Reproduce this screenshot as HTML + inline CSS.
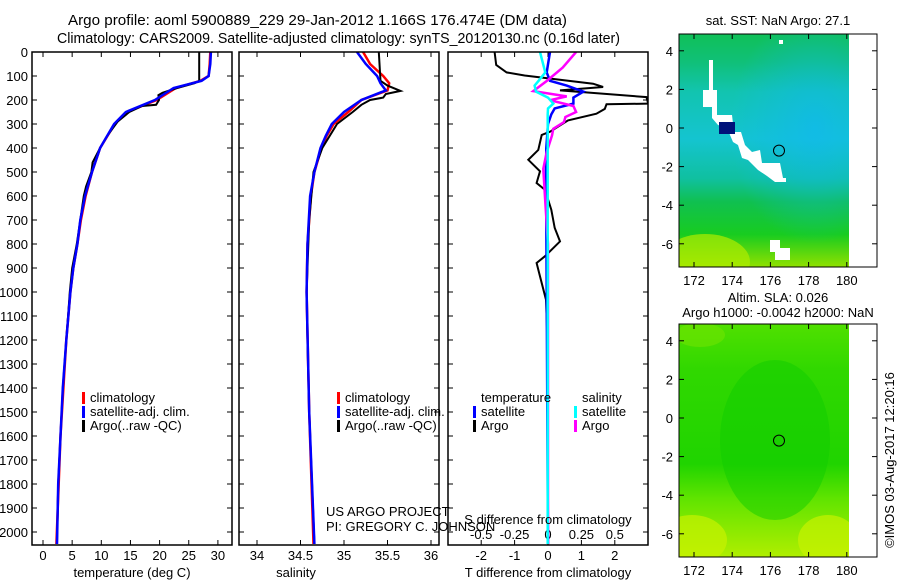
<!DOCTYPE html>
<html><head><meta charset="utf-8"><style>
html,body{margin:0;padding:0;background:#fff;}
svg{display:block;font-family:"Liberation Sans",sans-serif;}
text{fill:#000;}
</style></head><body>
<svg id="root" width="900" height="580" viewBox="0 0 900 580" xmlns="http://www.w3.org/2000/svg">
<defs>
<linearGradient id="sstGrad" x1="0" y1="0" x2="0" y2="1">
<stop offset="0" stop-color="#10c058"/><stop offset="0.12" stop-color="#10c078"/>
<stop offset="0.25" stop-color="#12c4b0"/><stop offset="0.45" stop-color="#14c4d0"/>
<stop offset="0.62" stop-color="#10c0a0"/><stop offset="0.72" stop-color="#10c050"/>
<stop offset="0.86" stop-color="#18cc20"/><stop offset="1" stop-color="#90e000"/>
</linearGradient>
<radialGradient id="sstBlue" cx="0.8" cy="0.4" r="0.5"><stop offset="0" stop-color="#10b8f0" stop-opacity="0.7"/><stop offset="1" stop-color="#10b8f0" stop-opacity="0"/></radialGradient>
<linearGradient id="slaGrad" x1="0" y1="0" x2="0" y2="1">
<stop offset="0" stop-color="#50e000"/><stop offset="0.2" stop-color="#30d800"/>
<stop offset="0.6" stop-color="#20d400"/><stop offset="0.75" stop-color="#60e400"/>
<stop offset="1" stop-color="#b0ee00"/>
</linearGradient>
<clipPath id="clip1"><rect x="679" y="34" width="170" height="233"/></clipPath>
<clipPath id="clip2"><rect x="679" y="324" width="170" height="233"/></clipPath>
</defs>

<g font-size="15">
<text x="68" y="25" textLength="499" lengthAdjust="spacingAndGlyphs">Argo profile: aoml 5900889_229 29-Jan-2012 1.166S 176.474E (DM data)</text>
<text x="57" y="43" textLength="563" lengthAdjust="spacingAndGlyphs">Climatology: CARS2009. Satellite-adjusted climatology: synTS_20120130.nc (0.16d later)</text>
</g>

<g id="panels"></g>

<g>
<g clip-path="url(#clip1)">
<rect x="679" y="34" width="170" height="233" fill="url(#sstGrad)"/>
<rect x="679" y="34" width="170" height="233" fill="url(#sstBlue)"/>
<ellipse cx="705" cy="262" rx="45" ry="28" fill="#b0ec00" opacity="0.7"/>
<polygon points="709,60 713,60 713,90 717,90 717,115 732,115 734,132 741,132 745,145 752,152 760,150 762,163 780,163 783,178 786,178 786,182 775,182 767,176 758,170 748,160 742,158 738,145 733,142 727,128 718,125 712,118 712,107 703,107 703,90 709,90" fill="#fff"/>
<rect x="719" y="122" width="16" height="12" fill="#00127a"/>
<rect x="779" y="40" width="4" height="4" fill="#fff"/>
<polygon points="770,240 780,240 780,248 790,248 790,260 775,260 775,252 770,252" fill="#fff"/>
</g>
<rect x="849" y="34" width="28" height="233" fill="#fff"/>
<circle cx="779" cy="150.6" r="5.5" fill="none" stroke="#000" stroke-width="1"/>
<rect x="679" y="34" width="198" height="233" fill="none" stroke="#000" stroke-width="1"/>
<text x="778" y="25" text-anchor="middle" font-size="13">sat. SST: NaN Argo: 27.1</text>
</g>

<g>
<g clip-path="url(#clip2)">
<rect x="679" y="324" width="170" height="233" fill="url(#slaGrad)"/>
<ellipse cx="775" cy="440" rx="55" ry="80" fill="#10cc00" opacity="0.5"/>
<ellipse cx="692" cy="540" rx="35" ry="25" fill="#c8f200" opacity="0.7"/>
<ellipse cx="828" cy="540" rx="30" ry="25" fill="#c8f200" opacity="0.7"/>
<ellipse cx="700" cy="335" rx="25" ry="12" fill="#70e400" opacity="0.6"/>
</g>
<rect x="849" y="324" width="28" height="233" fill="#fff"/>
<circle cx="779" cy="440.6" r="5.5" fill="none" stroke="#000" stroke-width="1"/>
<rect x="679" y="324" width="198" height="233" fill="none" stroke="#000" stroke-width="1"/>
<text x="778" y="302" text-anchor="middle" font-size="13">Altim. SLA: 0.026</text>
<text x="778" y="317" text-anchor="middle" font-size="13">Argo h1000: -0.0042 h2000: NaN</text>
</g>
<text transform="translate(894,460) rotate(-90)" text-anchor="middle" font-size="13">©IMOS 03-Aug-2017 12:20:16</text>

<script>
const depthTicks = [0,100,200,300,400,500,600,700,800,900,1000,1100,1200,1300,1400,1500,1600,1700,1800,1900,2000];
const tempTicks = [0,5,10,15,20,25,30];
const salTicks = [34,34.5,35,35.5,36];
const salTickLabels = ["34","34.5","35","35.5","36"];
const tdiffTicks = [-2,-1,0,1,2];
const sdiffTicks = [-0.5,-0.25,0,0.25,0.5];
const sdiffTickLabels = ["-0.5","-0.25","0","0.25","0.5"];

const tClimDepth = [0,50,100,120,150,200,250,300,400,500,600,700,800,900,1000,1200,1400,1600,1800,2050];
const tClim      = [28.7,28.6,28.4,27,22.8,19.5,14.4,12.3,9.8,8.4,7.3,6.5,5.9,5.2,4.7,4.0,3.5,3.0,2.7,2.3];
const tSat       = [28.8,28.7,28.4,27.2,22.4,19.2,14.2,12.2,9.8,8.4,7.2,6.4,5.9,5.2,4.7,4.0,3.4,3.0,2.6,2.4];
const tArgoDepth = [0,120,130,150,170,180,200,220,225,250,290,350,400,460,500,560,600,700,800,900,1000,1100,1200,1400,1600,1800,2050];
const tArgo      = [26.8,26.8,26,23,20.5,19.8,19.9,19.4,17,14.8,12.8,11,9.8,8.5,8.3,7.4,7.0,6.4,5.8,5.0,4.6,4.3,4.0,3.4,3.0,2.6,2.4];

const sClimDepth = [0,50,100,130,160,200,250,300,350,400,500,600,800,1000,1500,2050];
const sClim      = [35.22,35.3,35.45,35.52,35.5,35.2,35.05,34.88,34.8,34.74,34.66,34.62,34.58,34.57,34.6,34.65];
const sSat       = [35.15,35.25,35.38,35.42,35.48,35.2,35.0,34.86,34.79,34.73,34.66,34.61,34.58,34.57,34.6,34.66];
const sArgoDepth = [0,120,140,162,175,190,200,220,250,300,400,500,700,1000,1200,1500,2050];
const sArgo      = [35.40,35.42,35.50,35.65,35.48,35.45,35.3,35.2,35.1,34.92,34.75,34.65,34.6,34.57,34.58,34.6,34.66];

const dDepth1 = [0,54,85,98,132,146,160,188,215,218,237,257,285,332,346,408,449,497,546,574,657,733,789,851,879,935,1032,1185,1500,2050];
const dTArgo  = [-1.6,-1.55,-1.24,-0.7,1.35,1.65,0.36,2.95,3.0,1.75,1.7,1.45,0.6,0.06,-0.19,-0.29,-0.59,-0.24,-0.34,-0.09,0.1,0.2,0.36,-0.09,-0.34,-0.24,-0.06,-0.02,0,0];
const dDepth2 = [0,85,120,140,165,190,215,235,260,300,400,500,700,1000,1500,2050];
const dTSat   = [0.06,-0.04,0.06,0.56,1.06,0.76,0.76,0.2,0.1,0.0,-0.05,-0.06,-0.05,-0.04,-0.02,0];
const dSSat   = [-0.06,-0.02,-0.07,-0.1,-0.09,0.0,0.04,0.0,-0.002,-0.002,-0.002,-0.002,-0.002,-0.002,-0.002,-0.002];
const dDepth3 = [0,65,121,163,185,201,225,250,271,292,320,348,417,487,626,800,1200,2050];
const dSArgo  = [0.21,0.11,-0.01,-0.11,0.14,0.015,0.19,0.21,0.13,0.12,0.04,0.03,-0.01,-0.035,-0.02,0.0,0.0,0.0];

const TOP=52, BOT=545, PXD=24/100;
const yD = d => TOP + d*PXD;
const xT = t => 43 + t*5.83;
const xS = s => 257 + (s-34)*87;
const xTD = v => 548 + v*33.4;
const xSD = v => 548 + v*133.6;
const panels=[{l:32,r:232,name:'temperature-panel'},{l:239,r:439,name:'salinity-panel'},{l:448,r:648,name:'difference-panel'}];
const NS='http://www.w3.org/2000/svg';
const G=document.getElementById('panels');
function mk(tag,attrs,parent){const e=document.createElementNS(NS,tag);for(const k in attrs)e.setAttribute(k,attrs[k]);(parent||G).appendChild(e);return e;}
function txt(x,y,s,anchor,size,parent){const e=mk('text',{x:x,y:y,'text-anchor':anchor||'start','font-size':size||13},parent);e.textContent=s;return e;}

panels.forEach(p=>{
  const g=mk('g',{});
  
  
  p.g=g;
  const c=mk('clipPath',{id:'pc'+p.l},g);
  mk('rect',{x:p.l,y:TOP,width:p.r-p.l,height:BOT-TOP},c);
});

depthTicks.forEach(d=>{
  const t=txt(28,yD(d)+5,String(d),'end',13,panels[0].g);
  
  
  panels.forEach(p=>{
    mk('line',{x1:p.l,x2:p.l+5,y1:yD(d),y2:yD(d),stroke:'#000'},p.g);
    mk('line',{x1:p.r-5,x2:p.r,y1:yD(d),y2:yD(d),stroke:'#000'},p.g);
  });
});

function xticks(p,vals,labels,fx,ly){
  vals.forEach((v,i)=>{
    const x=fx(v);
    mk('line',{x1:x,x2:x,y1:BOT,y2:BOT-5,stroke:'#000'},p.g);
    mk('line',{x1:x,x2:x,y1:TOP,y2:TOP+5,stroke:'#000'},p.g);
    const t=txt(x,ly,labels[i],'middle',13,p.g);
    
    
  });
}
xticks(panels[0],tempTicks,tempTicks.map(String),xT,560);
xticks(panels[1],salTicks,salTickLabels,xS,560);
xticks(panels[2],tdiffTicks,tdiffTicks.map(String),xTD,560);
sdiffTicks.forEach((v,i)=>{
  const t=txt(xSD(v),539,sdiffTickLabels[i],'middle',13,panels[2].g);
  
  
});

function line(p,xs,ds,fx,color,w,name){
  const pts=xs.map((v,i)=>fx(v).toFixed(1)+','+yD(ds[i]).toFixed(1)).join(' ');
  const e=mk('polyline',{points:pts,fill:'none',stroke:color,'stroke-width':w,'clip-path':'url(#pc'+p.l+')'},p.g);
  
  
}
line(panels[0],tClim,tClimDepth,xT,'#f00',2.5,'temp-climatology-line');
line(panels[0],tArgo,tArgoDepth,xT,'#000',2,'temp-argo-line');
line(panels[0],tSat,tClimDepth,xT,'#00f',2.5,'temp-satellite-line');
line(panels[1],sClim,sClimDepth,xS,'#f00',2.5,'sal-climatology-line');
line(panels[1],sArgo,sArgoDepth,xS,'#000',2,'sal-argo-line');
line(panels[1],sSat,sClimDepth,xS,'#00f',2.5,'sal-satellite-line');
line(panels[2],dTArgo,dDepth1,xTD,'#000',2,'tdiff-argo-line');
line(panels[2],dTSat,dDepth2,xTD,'#00f',2.5,'tdiff-satellite-line');
line(panels[2],dSArgo,dDepth3,xSD,'#f0f',2.5,'sdiff-argo-line');
line(panels[2],dSSat,dDepth2,xSD,'#0ff',2.5,'sdiff-satellite-line');

panels.forEach(p=>{
  const r=mk('rect',{x:p.l,y:TOP,width:p.r-p.l,height:BOT-TOP,fill:'none',stroke:'#000','stroke-width':1.5},p.g);
  
  
});

[[132,577,'temperature (deg C)',0],[296,577,'salinity',1],[548,577,'T difference from climatology',2]].forEach(a=>{
  const t=txt(a[0],a[1],a[2],'middle',13,panels[a[3]].g);
  
  
});
const st=txt(548,524,'S difference from climatology','middle',13,panels[2].g);



function legend(p,x,y,color,label){
  mk('rect',{x:x,y:y-10,width:3,height:12,fill:color},p.g);
  const t=txt(x+8,y,label,'start',13,p.g);
  
  
}
[[panels[0],82],[panels[1],337]].forEach(a=>{
  legend(a[0],a[1],402,'#f00','climatology');
  legend(a[0],a[1],416,'#00f','satellite-adj. clim.');
  legend(a[0],a[1],430,'#000','Argo(..raw -QC)');
});
const p3=panels[2];
let lt=txt(481,402,'temperature','start',13,p3.g);


lt=txt(582,402,'salinity','start',13,p3.g);


legend(p3,473,416,'#00f','satellite');
legend(p3,473,430,'#000','Argo');
legend(p3,574,416,'#0ff','satellite');
legend(p3,574,430,'#f0f','Argo');

const c1=txt(326,516,'US ARGO PROJECT','start',13,panels[1].g);


const c2=txt(326,531,'PI: GREGORY C. JOHNSON','start',13,panels[1].g);



const mapLat=[4,2,0,-2,-4,-6], mapLon=[172,174,176,178,180];
const root=document.getElementById('root');
[{lat0:128,top:34,bot:267},{lat0:418,top:324,bot:557}].forEach(m=>{
  mapLat.forEach(v=>{
    const y=m.lat0-v*19.3;
    mk('line',{x1:679,x2:684,y1:y,y2:y,stroke:'#000'},root);
    mk('line',{x1:872,x2:877,y1:y,y2:y,stroke:'#000'},root);
    const t=txt(673,y+5,String(v),'end',13,root);
    
    
  });
  mapLon.forEach(v=>{
    const x=694+(v-172)*19.1;
    mk('line',{x1:x,x2:x,y1:m.bot,y2:m.bot-5,stroke:'#000'},root);
    mk('line',{x1:x,x2:x,y1:m.top,y2:m.top+5,stroke:'#000'},root);
    const t=txt(x,m.bot+18,String(v),'middle',13,root);
    
    
  });
});
</script>
</svg>
</body></html>
